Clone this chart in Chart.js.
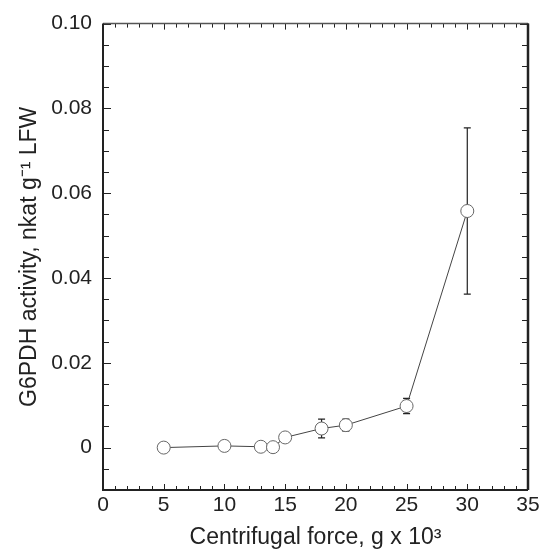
<!DOCTYPE html>
<html>
<head>
<meta charset="utf-8">
<script src="https://cdn.jsdelivr.net/npm/chart.js@4"></script>
<style>
  html, body { margin: 0; padding: 0; background: #fff; }
  #wrap { width: 543px; height: 549px; }
</style>
</head>
<body>
<div id="wrap"><canvas id="myChart" width="543" height="549"></canvas></div>
<script>
// data
const fuerza = [5, 10, 13, 14, 15, 18, 20, 25, 30];
const actividad = [0.0000, 0.0004, 0.0002, 0.0001, 0.0024, 0.0045, 0.0053, 0.0098, 0.0558];
const errores = [0, 0, 0, 0, 0, 0.0022, 0.0014, 0.0018, 0.0196];
const xTicks = [0, 5, 10, 15, 20, 25, 30, 35];
const yTicks = [0, 0.02, 0.04, 0.06, 0.08, 0.10];
const yTickLabels = ["0", "0.02", "0.04", "0.06", "0.08", "0.10"];

const fuente = "'Liberation Sans', Arial, sans-serif";

// error bars, drawn through the chart scales
const barrasError = {
  id: "barrasError",
  beforeDatasetsDraw(chart) {
    const { ctx, scales: { x, y } } = chart;
    ctx.save();
    ctx.strokeStyle = "#222";
    ctx.lineWidth = 1.2;
    fuerza.forEach((f, i) => {
      if (!errores[i]) return;
      const px = x.getPixelForValue(f);
      const top = y.getPixelForValue(actividad[i] + errores[i]);
      const bot = y.getPixelForValue(actividad[i] - errores[i]);
      ctx.beginPath();
      ctx.moveTo(px, top);
      ctx.lineTo(px, bot);
      ctx.moveTo(px - 3.5, top);
      ctx.lineTo(px + 3.5, top);
      ctx.moveTo(px - 3.5, bot);
      ctx.lineTo(px + 3.5, bot);
      ctx.stroke();
    });
    ctx.restore();
  }
};

// frame with inward ticks on all four sides
const marco = {
  id: "marco",
  afterDraw(chart) {
    const { ctx, chartArea: a, scales: { x, y } } = chart;
    ctx.save();
    ctx.strokeStyle = "#222";
    ctx.lineWidth = 1;
    ctx.beginPath();
    for (let v = x.min; v <= x.max + 1e-9; v += 1) {
      const px = Math.round(x.getPixelForValue(v)) + 0.5;
      const len = v % 5 === 0 ? 6 : 4;
      ctx.moveTo(px, a.bottom); ctx.lineTo(px, a.bottom - len);
      ctx.moveTo(px, a.top); ctx.lineTo(px, a.top + len);
    }
    for (let k = -2; k <= 20; k++) {
      const v = k * 0.005;
      const py = Math.round(y.getPixelForValue(v)) + 0.5;
      const len = k % 4 === 0 ? 8 : 6;
      ctx.moveTo(a.left, py); ctx.lineTo(a.left + len, py);
      ctx.moveTo(a.right, py); ctx.lineTo(a.right - len, py);
    }
    ctx.stroke();
    // borders
    ctx.lineWidth = 1.5;
    ctx.strokeStyle = "#555";
    ctx.beginPath();
    ctx.moveTo(a.left, a.top); ctx.lineTo(a.right, a.top);
    ctx.stroke();
    ctx.strokeStyle = "#222";
    ctx.lineWidth = 2;
    ctx.beginPath();
    ctx.moveTo(a.left, a.top); ctx.lineTo(a.left, a.bottom); ctx.lineTo(a.right, a.bottom);
    ctx.stroke();
    ctx.lineWidth = 2.5;
    ctx.beginPath();
    ctx.moveTo(a.right, a.top); ctx.lineTo(a.right, a.bottom);
    ctx.stroke();
    ctx.restore();
  }
};

const canvas = document.getElementById("myChart");
const myChart = new Chart(canvas, {
  type: "line",
  data: {
    datasets: [{
      data: fuerza.map((f, i) => ({ x: f, y: actividad[i] })),
      borderColor: "#444",
      borderWidth: 1,
      backgroundColor: "#fff",
      pointBackgroundColor: "#fff",
      pointBorderColor: "#666",
      pointBorderWidth: 1,
      pointRadius: 6.5,
      tension: 0
    }]
  },
  options: {
    responsive: false,
    animation: false,
    events: [],
    layout: { padding: { left: 0, right: 15, top: 20, bottom: 0 } },
    plugins: { legend: { display: false }, tooltip: { enabled: false } },
    scales: {
      x: {
        type: "linear",
        min: 0,
        max: 35,
        afterBuildTicks: (s) => { s.ticks = xTicks.map(v => ({ value: v })); },
        afterFit: (s) => { s.height = 59; },
        grid: { display: false, drawTicks: false },
        border: { display: false },
        ticks: { color: "#222", font: { family: fuente, size: 21 }, padding: 3, maxRotation: 0 },
        title: {
          display: true,
          text: "Centrifugal force, g x 10\u00B3",
          color: "#222",
          font: { family: fuente, size: 23, lineHeight: 1 },
          padding: { top: 0, bottom: 0 }
        }
      },
      y: {
        type: "linear",
        min: -0.01,
        max: 0.10,
        afterBuildTicks: (s) => { s.ticks = yTicks.map(v => ({ value: v })); },
        afterFit: (s) => { s.width = 103; },
        grid: { display: false, drawTicks: false },
        border: { display: false },
        ticks: {
          color: "#222",
          font: { family: fuente, size: 21 },
          padding: 11,
          callback: (v) => yTickLabels[yTicks.findIndex(t => Math.abs(t - v) < 1e-9)]
        },
        title: {
          display: true,
          text: "G6PDH activity, nkat g\u207B\u00B9 LFW",
          color: "#222",
          font: { family: fuente, size: 23, lineHeight: 1 },
          padding: { top: 18, bottom: 0 }
        }
      }
    }
  },
  plugins: [barrasError, marco]
});
</script>
</body>
</html>
